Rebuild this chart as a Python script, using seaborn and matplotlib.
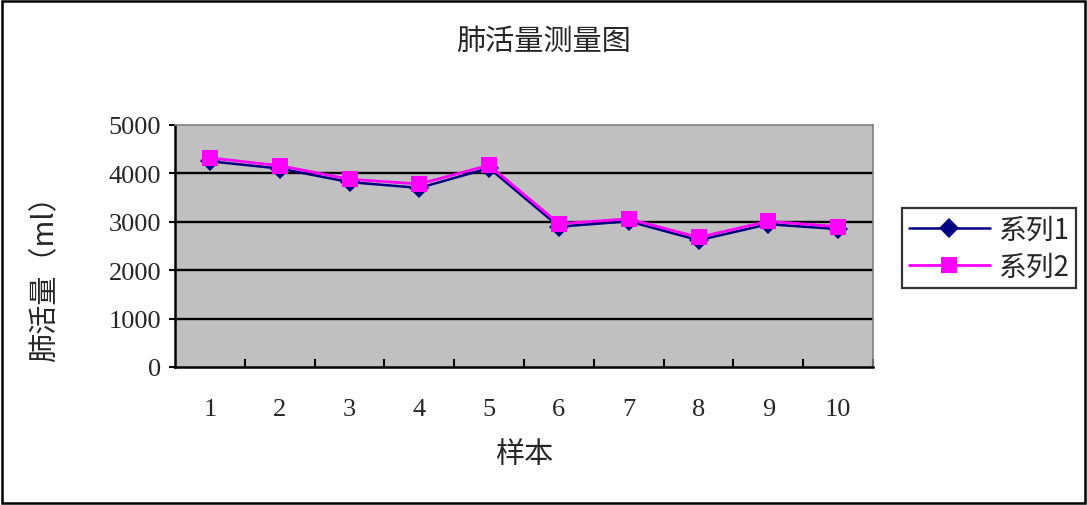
import matplotlib
matplotlib.use("Agg")
import matplotlib.pyplot as plt
import seaborn as sns
import pandas as pd
from matplotlib.patches import Rectangle

categories = ["1", "2", "3", "4", "5", "6", "7", "8", "9", "10"]
series1 = [4250, 4100, 3820, 3700, 4110, 2900, 3010, 2620, 2950, 2850]
series2 = [4320, 4160, 3880, 3780, 4170, 2960, 3060, 2680, 3010, 2900]
yticks = [0, 1000, 2000, 3000, 4000, 5000]

sns.set_theme(style="white")
plt.rcParams['font.family'] = ['Noto Sans CJK SC', 'DejaVu Sans']

fig = plt.figure(figsize=(10.87, 5.06), dpi=100)
ax = fig.add_axes([175/1087, 1-368/506, (873-175)/1087, (368-126)/506])
ax.set_facecolor("#C0C0C0")

pos = list(range(len(categories)))
df1 = pd.DataFrame({"x": pos, "y": series1})
df2 = pd.DataFrame({"x": pos, "y": series2})

for v in yticks[1:-1]:
    ax.axhline(v, color="black", lw=1.7, zorder=1)

sns.lineplot(data=df1, x="x", y="y", ax=ax, color="#000080", lw=1.8,
             marker="D", markersize=10, markeredgewidth=0, label="系列1", zorder=3)
sns.lineplot(data=df2, x="x", y="y", ax=ax, color="#FF00FF", lw=2.0,
             marker="s", markersize=11, markeredgewidth=0, label="系列2", zorder=4)

ax.set_xlim(-0.5, len(categories) - 0.5)
ax.set_ylim(0, 5000)
ax.set_yticks(yticks)
ax.set_yticklabels([str(v) for v in yticks], family="Liberation Serif", fontsize=19)
ax.set_xticks([p - 0.5 for p in pos[1:]] + [len(categories) - 0.5], minor=False)
ax.set_xticklabels([])
ax.set_xticks(pos, minor=True)
ax.set_xticklabels(categories, minor=True, family="Liberation Serif", fontsize=19)
ax.tick_params(axis="x", which="major", direction="in", length=6, width=1.5, color="black", bottom=True)
ax.tick_params(axis="x", which="minor", length=0, pad=22)
ax.tick_params(axis="y", direction="out", length=4, width=1.5, color="black", left=True, pad=6)

for s in ["left", "bottom"]:
    ax.spines[s].set_color("black")
    ax.spines[s].set_linewidth(1.8)
for s in ["top", "right"]:
    ax.spines[s].set_color("#808080")
    ax.spines[s].set_linewidth(1.2)

ax.set_xlabel("样本", fontsize=21)
ax.xaxis.set_label_coords(0.5, -(455-368)/242, transform=None)
ax.xaxis.label.set_va("center")
ax.set_ylabel("肺活量（ml）", fontsize=21)
ax.yaxis.set_label_coords(-(175-45)/698, (368-272)/242)
ax.yaxis.label.set_va("center")
fig.text(0.5, 1 - 42/506, "肺活量测量图", ha="center", va="center", fontsize=21)

leg = ax.legend(loc="center left", bbox_to_anchor=(902/1087, 1 - 249/506),
                bbox_transform=fig.transFigure, frameon=True, fancybox=False,
                fontsize=20, handlelength=2.9, borderpad=0.25, labelspacing=0.25,
                handletextpad=0.3, borderaxespad=0)
leg.get_frame().set_edgecolor("black")
leg.get_frame().set_linewidth(1.6)

fig.patches.append(Rectangle((2/1087, 2/506), 1 - 4/1087, 1 - 4/506, transform=fig.transFigure,
                             fill=False, edgecolor="black", lw=1.8))

fig.savefig("out.png", dpi=100)
